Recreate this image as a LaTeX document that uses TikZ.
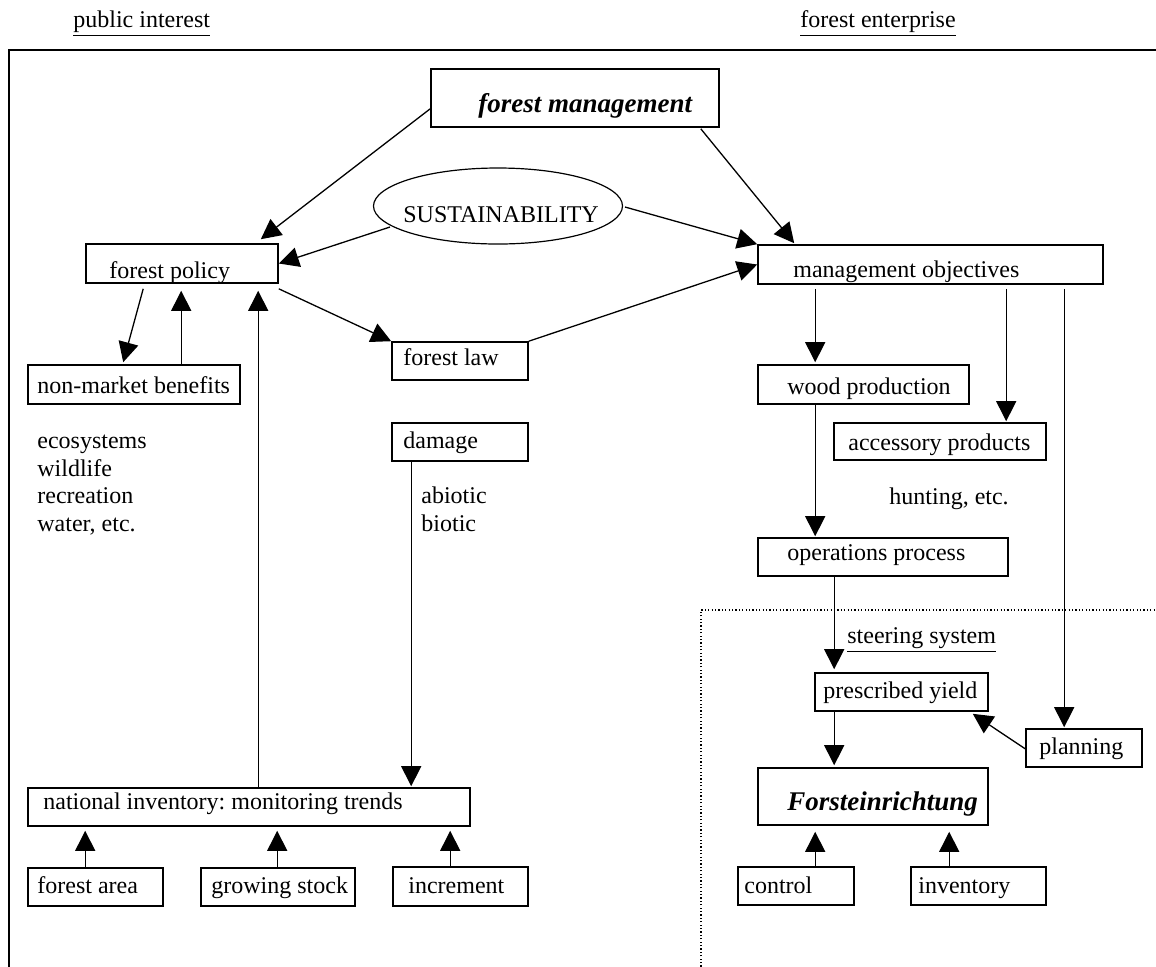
\documentclass[tikz,border=0pt]{standalone}
\usepackage{fontspec}
\setmainfont{Liberation Serif}
\frenchspacing
\usetikzlibrary{arrows.meta,shapes.geometric,fit,calc}
\tikzset{
  boxst/.style={draw, line width=0.8pt, inner sep=0pt, rectangle},
  txt/.style={inner sep=0pt, anchor=base west, font=\fontsize{12}{14}\selectfont},
  bigtxt/.style={inner sep=0pt, anchor=base west, font=\fontsize{13.5}{16}\selectfont\bfseries\itshape},
  arr/.style={line width=0.65pt, -{Triangle[length=10pt,width=10pt]}},
  framest/.style={line width=0.8pt},
  dotst/.style={line width=0.6pt, dash pattern=on 0.6pt off 1.1pt}
}
\newcommand\mkbox[5]{\node[boxst, fit={(#2,#3) (#4,#5)}] (#1) {};}
\begin{document}
\begin{tikzpicture}[x=0.5pt,y=-0.5pt]
\useasboundingbox (0,0) rectangle (1156,966);
% frame and steering area
\draw[framest] (9,970) -- (9,50) -- (1160,50);
\draw[dotst] (701,970) -- (701,610) -- (1160,610);
% headings
\node[txt] (hpub) at (73,27) {\underline{public interest}};
\node[txt] (hent) at (800,27) {\underline{forest enterprise}};
% boxes
\mkbox{fm}{431}{69}{719}{127}
\node[bigtxt] (fmt) at (478,112) {forest management};
\node[draw, ellipse, line width=0.6pt, inner sep=0pt, minimum width=124.5pt, minimum height=38pt] (ell) at (498,206) {};
\node[txt] (ellt) at (403,222) {SUSTAINABILITY};
\mkbox{fp}{86}{244}{278}{283}
\node[txt] (fpt) at (109,278) {forest policy};
\mkbox{mo}{758}{245}{1103}{284}
\node[txt] (mot) at (793,277) {management objectives};
\mkbox{fl}{392}{342}{528}{380}
\node[txt] (flt) at (403,365) {forest law};
\mkbox{nm}{28}{365}{240}{404}
\node[txt] (nmt) at (37,393) {non-market benefits};
\mkbox{dm}{392}{423}{528}{461}
\node[txt] (dmt) at (403,448) {damage};
\mkbox{wp}{758}{365}{969}{404}
\node[txt] (wpt) at (787,394) {wood production};
\mkbox{ap}{834}{423}{1046}{460}
\node[txt] (apt) at (848,450) {accessory products};
\mkbox{op}{758}{538}{1008}{576}
\node[txt] (opt) at (787,560) {operations process};
\mkbox{py}{815}{673}{988}{711}
\node[txt] (pyt) at (823,698) {prescribed yield};
\mkbox{pl}{1026}{729}{1142}{767}
\node[txt] (plt) at (1039,754) {planning};
\mkbox{fe}{758}{768}{988}{825}
\node[bigtxt] (fet) at (787,810) {Forsteinrichtung};
\mkbox{ct}{738}{867}{854}{905}
\node[txt] (ctt) at (744,893) {control};
\mkbox{iv}{911}{867}{1046}{905}
\node[txt] (ivt) at (918,893) {inventory};
\mkbox{ni}{28}{788}{470}{826}
\node[txt] (nit) at (43,809) {national inventory: monitoring trends};
\mkbox{fa}{28}{868}{163}{906}
\node[txt] (fat) at (37,893) {forest area};
\mkbox{gs}{201}{868}{355}{906}
\node[txt] (gst) at (211,893) {growing stock};
\mkbox{in}{393}{867}{528}{906}
\node[txt] (int) at (408,893) {increment};
% free texts
\node[txt] (e1) at (37,448) {ecosystems};
\node[txt] (e2) at (37,476) {wildlife};
\node[txt] (e3) at (37,503) {recreation};
\node[txt] (e4) at (37,531) {water, etc.};
\node[txt] (a1) at (421,503) {abiotic};
\node[txt] (a2) at (421,531) {biotic};
\node[txt] (hu) at (889,504) {hunting, etc.};
\node[txt] (st) at (847,643) {\underline{steering system}};
% connectors
\draw[arr] ($(fm.south west)+(0,-19)$) -- ($(fp.north east)+(-18,-4)$);
\draw[arr] ($(fm.south east)+(-19,1)$) -- ($(mo.north west)+(37,-1)$);
\draw[arr] ($(ell.center)+(-108,21)$) -- (fp.east);
\draw[arr] ($(ell.center)+(127,1)$) -- (mo.north west);
\draw[arr] ($(fp.south east)+(0,5)$) -- (fl.north west);
\draw[arr] (fl.north east) -- (mo.west);
\draw[arr] ($(fp.south west)+(58,5)$) -- ($(nm.north west)+(96,-2)$);
\draw[arr] ($(nm.north west)+(154,0)$) -- ($(fp.south west)+(96,7)$);
\draw[arr] ($(ni.north west)+(231,0)$) -- ($(fp.south west)+(173,7)$);
\draw[arr] ($(dm.south west)+(20,0)$) -- ($(ni.north west)+(384,-1)$);
\draw[arr] ($(mo.south west)+(58,4)$) -- ($(wp.north west)+(58,-2)$);
\draw[arr] ($(mo.south west)+(249,4)$) -- ($(ap.north west)+(173,-1)$);
\draw[arr] ($(mo.south west)+(307,4)$) -- ($(pl.north west)+(39,-1)$);
\draw[arr] ($(wp.south west)+(58,0)$) -- ($(op.north west)+(58,-1)$);
\draw[arr] ($(op.south west)+(77,0)$) -- ($(py.north west)+(20,-3)$);
\draw[arr] ($(pl.south west)+(0,-19)$) -- ($(py.south east)+(-16,2)$);
\draw[arr] ($(py.south west)+(20,0)$) -- ($(fe.north west)+(77,-2)$);
\draw[arr] ($(ct.north west)+(78,0)$) -- ($(fe.south west)+(58,6)$);
\draw[arr] ($(iv.north west)+(39,0)$) -- ($(fe.south west)+(192,6)$);
\draw[arr] ($(fa.north west)+(58,0)$) -- ($(ni.south west)+(58,4)$);
\draw[arr] ($(gs.north west)+(77,0)$) -- ($(ni.south west)+(250,4)$);
\draw[arr] ($(in.north west)+(58,0)$) -- ($(ni.south west)+(423,4)$);
\end{tikzpicture}
\end{document}
